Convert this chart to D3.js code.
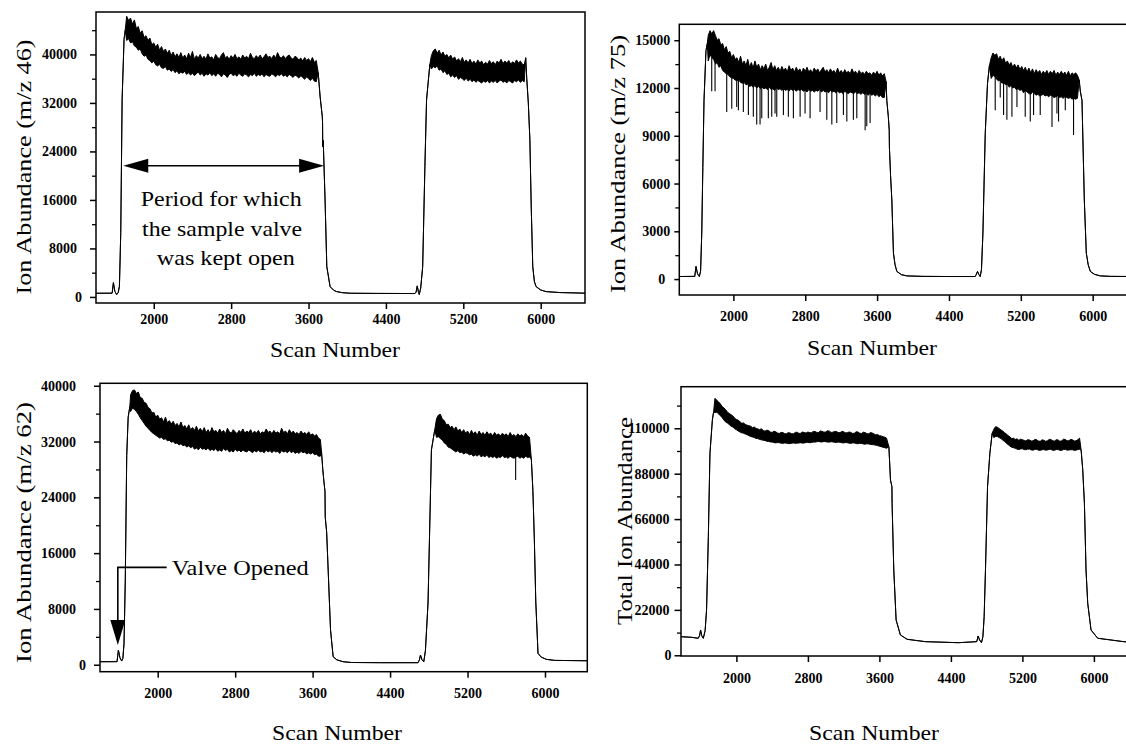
<!DOCTYPE html>
<html>
<head>
<meta charset="utf-8">
<script src="https://cdn.jsdelivr.net/npm/d3@7"></script>
<style>
  html, body { margin: 0; padding: 0; background: #fff; }
  svg { display: block; }
  text { font-family: "Liberation Serif", "Times New Roman", serif; fill: #000; }
</style>
</head>
<body>
<svg id="fig" width="1126" height="744"></svg>
<script>
// ---- shared axis values ----
const scanTicks = [2000, 2800, 3600, 4400, 5200, 6000];

const ticks46 = [0, 8000, 16000, 24000, 32000, 40000];
const minor46 = [4000, 12000, 20000, 28000, 36000, 44000];
const ticks75 = [0, 3000, 6000, 9000, 12000, 15000];
const minor75 = [1500, 4500, 7500, 10500, 13500];
const ticks62 = [0, 8000, 16000, 24000, 32000, 40000];
const minor62 = [4000, 12000, 20000, 28000, 36000];
const ticksTIC = [0, 22000, 44000, 66000, 88000, 110000];
const minorTIC = [11000, 33000, 55000, 77000, 99000, 121000];

// ---- traces: [scan, value] or [scan, low, high] where the signal is noisy ----
const trace46 = [
  [1400,610],[1570,620],[1583,2360],[1598,900],[1617,400],[1632,700],[1645,1700],[1659,10600],[1673,32600],[1693,42500],[1705,44000],
  [1720,42300,46300],[1740,42600,45600],[1760,41900,46000],[1780,42100,45000],[1800,41400,45700],[1820,41200,44300],
  [1840,40700,44600],[1860,40900,43500],[1880,40100,43900],[1900,39700,42800],[1920,39900,43100],[1940,39200,42300],
  [1960,39000,42700],[1980,38600,41600],[2000,38900,41900],[2020,38300,41200],[2040,38100,41700],[2060,38400,40700],
  [2080,37800,41300],[2100,37700,40500],[2120,38000,40900],[2140,37400,40200],[2160,37600,40700],[2180,37200,39800],
  [2200,37500,40400],[2220,37000,39600],[2240,37300,40100],[2260,36800,39500],[2280,37100,40300],[2300,36900,39400],
  [2320,37200,39900],[2340,36700,39300],[2360,37000,40200],[2380,36600,39500],[2400,36900,40500],[2420,36500,39200],
  [2440,36800,39800],[2460,37100,39400],[2480,36600,40000],[2500,36900,39300],[2520,36400,39700],[2540,36800,39200],
  [2560,36600,40100],[2580,37000,39400],[2600,36500,39600],[2620,36800,39100],[2640,36400,40000],[2660,36900,39500],
  [2680,36700,39300],[2700,36300,39900],[2720,36800,40300],[2740,36600,39400],[2760,36200,39700],[2780,36700,39200],
  [2800,36900,39800],[2820,36500,39400],[2840,36700,40000],[2860,36400,39300],[2880,36900,39600],[2900,36600,39200],
  [2920,36400,39900],[2940,36800,39400],[2960,36600,39700],[2980,36300,39300],[3000,36700,40200],[3020,36500,39500],
  [3040,36900,39300],[3060,36400,39800],[3080,36700,39400],[3100,36500,39900],[3120,36800,39300],[3140,36300,39600],
  [3160,36700,40100],[3180,36500,39500],[3200,36400,39700],[3220,36800,39300],[3240,36600,39900],[3260,36300,39400],
  [3280,36700,40300],[3300,36500,39600],[3320,36800,39400],[3340,36400,39800],[3360,36600,39300],[3380,36300,39700],
  [3400,36700,39900],[3420,36500,39400],[3440,36200,39200],[3460,36600,39700],[3480,36400,39500],[3500,36100,39100],
  [3520,36500,39400],[3540,36200,38900],[3560,35900,39500],[3580,36300,39000],[3600,36000,39300],[3620,35700,38800],
  [3640,36100,39500],[3660,35600,38700],[3680,35500,39000],
  [3700,37000],[3720,33000],[3742,29800],[3745,28800],[3747,24800],[3752,25800],[3771,16000],[3789,5000],[3823,1700],
  [3860,1100],[3892,875],[3950,700],[4030,610],[4300,580],[4700,560],[4712,800],[4724,1820],[4735,900],[4745,400],
  [4760,1500],[4780,5000],[4803,21500],[4820,32500],[4854,38350],
  [4870,37600,39800],[4890,38000,40600],[4910,37800,40900],[4930,38100,40200],[4950,37400,40700],[4970,37600,39900],
  [4990,37000,40400],[5010,37300,39700],[5030,36700,40000],[5050,36900,39400],[5070,36300,39900],[5090,36600,39200],
  [5110,36200,39600],[5130,36500,38900],[5150,35900,39300],[5170,36200,38800],[5190,36000,39500],[5210,35700,38700],
  [5230,36100,39100],[5250,35600,38600],[5270,35900,39200],[5290,35500,38500],[5310,35800,38900],[5330,35400,38400],
  [5350,35700,39100],[5370,35500,38600],[5390,35300,38900],[5410,35600,38300],[5430,35400,38700],[5450,35700,38400],
  [5470,35300,39000],[5490,35600,38500],[5510,35400,38800],[5530,35700,38300],[5550,35300,38900],[5570,35600,38600],
  [5590,35800,39200],[5610,35400,38500],[5630,35600,38900],[5650,35300,38600],[5670,35700,39000],[5690,35500,38400],
  [5710,35300,38800],[5730,35700,38500],[5750,35500,39100],[5770,35800,38600],[5790,35400,38900],[5810,35700,38400],
  [5830,35500,38300],
  [5845,39450],[5856,36000],[5872,32000],[5888,26000],[5902,15000],[5918,5000],[5935,2500],[5953,1700],[6000,1150],
  [6057,875],[6200,720],[6460,620]
];

const trace75 = [
  [1398,160],[1570,170],[1584,790],[1600,350],[1621,160],[1635,500],[1648,2880],[1660,7000],[1673,11220],[1695,14350],[1710,14800],
  [1720,13700,15300],[1740,14100,15600],[1760,13900,15400],[1780,13800,15600],[1800,13500,15300],[1820,13600,15000],
  [1840,13300,15100],[1860,13400,14700],[1880,13100,14800],[1900,13000,14400],[1920,12900,14600],[1940,12850,14200],
  [1960,12700,14300],[1980,12650,13900],[2000,12600,14100],[2020,12500,13800],[2040,12450,13900],[2060,12500,13600],
  [2080,12350,14000],[2100,12300,13500],[2120,12350,13700],[2140,12200,13400],[2160,12250,13800],[2180,12100,13300],
  [2200,12150,13600],[2220,12050,13250],[2240,12150,13700],[2260,12000,13300],[2280,12100,13500],[2300,11950,13150],
  [2320,12050,13400],[2340,11950,13200],[2360,12000,13500],[2380,11900,13100],[2400,12050,13300],[2420,11900,13600],
  [2440,11950,13150],[2460,11850,13400],[2480,12000,13100],[2500,11900,13300],[2520,11950,13050],[2540,11850,13350],
  [2560,11950,13100],[2580,11850,13250],[2600,11900,13000],[2620,11800,13400],[2640,11950,13100],[2660,11850,13250],
  [2680,11900,13000],[2700,11800,13300],[2720,11900,13050],[2740,11850,13200],[2760,11900,12950],[2780,11800,13250],
  [2800,11850,13050],[2820,11750,13300],[2840,11900,13000],[2860,11800,13150],[2880,11850,12950],[2900,11750,13250],
  [2920,11850,13050],[2940,11800,13200],[2960,11900,12950],[2980,11750,13150],[3000,11850,13300],[3020,11750,13000],
  [3040,11800,13150],[3060,11700,12950],[3080,11850,13200],[3100,11750,13000],[3120,11800,13100],[3140,11700,12900],
  [3160,11800,13250],[3180,11700,12950],[3200,11750,13100],[3220,11650,12900],[3240,11800,13150],[3260,11700,12950],
  [3280,11650,13050],[3300,11750,12900],[3320,11700,13200],[3340,11650,12950],[3360,11750,13050],[3380,11650,12850],
  [3400,11700,13100],[3420,11600,12900],[3440,11700,13000],[3460,11600,12850],[3480,11650,13050],[3500,11550,12900],
  [3520,11650,12950],[3540,11550,12800],[3560,11600,13000],[3580,11500,12850],[3600,11600,13050],[3620,11450,12800],
  [3640,11550,12950],[3660,11400,12750],[3680,11400,12900],
  [3700,12400],[3708,11220],[3725,10200],[3735,9350],[3737,8300],[3750,6500],[3764,4965],[3782,1630],[3800,900],
  [3820,480],[3870,280],[3931,200],[4100,170],[4400,160],[4692,160],[4705,300],[4718,480],[4732,300],[4748,160],
  [4762,600],[4778,2880],[4804,9140],[4829,12270],[4850,13400],
  [4870,12600,13900],[4890,12800,14200],[4910,12700,14050],[4930,12550,14150],[4950,12450,13800],[4970,12500,14000],
  [4990,12300,13700],[5010,12350,13900],[5030,12200,13550],[5050,12250,13700],[5070,12050,13450],[5090,12150,13600],
  [5110,12000,13300],[5130,12050,13500],[5150,11900,13250],[5170,11950,13450],[5190,11850,13150],[5210,11900,13350],
  [5230,11700,13100],[5250,11850,13300],[5270,11750,13000],[5290,11650,13250],[5310,11600,12950],[5330,11750,13200],
  [5350,11650,12900],[5370,11550,13150],[5390,11600,12950],[5410,11500,13100],[5430,11550,12850],[5450,11600,13050],
  [5470,11500,12900],[5490,11550,13100],[5510,11450,12850],[5530,11550,13050],[5550,11500,12900],[5570,11400,13100],
  [5590,11450,12800],[5610,11500,13000],[5630,11400,12850],[5650,11450,13050],[5670,11350,12850],[5690,11450,13000],
  [5710,11400,12800],[5730,11350,13050],[5750,11400,12750],[5770,11300,12950],[5790,11350,12850],[5810,11300,12950],
  [5830,11350,12800],
  [5850,12500],[5862,11800],[5881,11220],[5907,4965],[5929,1630],[5950,900],[5974,480],[6020,300],[6085,200],
  [6200,170],[6460,160]
];

// sharp downward drop-outs in the m/z 75 signal: [scan, value]
const dropouts75 = [
  [1759,11800],[1796,11800],[1926,10500],[1982,10700],[2037,10800],[2056,10600],[2111,10500],[2167,10300],
  [2222,10200],[2260,9700],[2297,9700],[2316,10100],[2389,10100],[2427,10200],[2464,10400],[2483,10200],
  [2557,10300],[2612,10200],[2668,10100],[2743,10200],[2798,10400],[2854,10100],[2965,10500],[3040,10000],
  [3096,9700],[3151,9800],[3225,10300],[3263,9900],[3336,10000],[3374,10100],[3467,9350],[3485,9600],[3522,9800],
  [4915,10600],[4971,11400],[5008,10300],[5045,10000],[5101,10200],[5157,10800],[5249,10200],[5305,9900],
  [5342,10300],[5416,10300],[5547,9550],[5602,10400],[5620,9900],[5695,10600],[5787,9050]
];

const trace62 = [
  [1404,430],[1580,440],[1594,2100],[1610,1000],[1628,530],[1640,900],[1652,3000],[1665,12000],[1680,30000],[1695,35500],[1712,37000],
  [1720,36300,38700],[1740,36800,39300],[1760,36600,39400],[1780,36300,38900],[1800,35900,39100],[1820,35400,38300],
  [1840,35000,38200],[1860,34600,37600],[1880,34200,37500],[1900,33900,36900],[1920,33600,36700],[1940,33300,36100],
  [1960,33100,36200],[1980,32900,35500],[2000,32700,35800],[2020,32500,35200],[2040,32600,35400],[2060,32300,34800],
  [2080,32400,35500],[2100,32100,34700],[2120,32200,35000],[2140,31900,34500],[2160,32000,34900],[2180,31700,34300],
  [2200,31800,34600],[2220,31500,34100],[2240,31700,34800],[2260,31400,34000],[2280,31500,34300],[2300,31200,33800],
  [2320,31400,34400],[2340,31100,33700],[2360,31300,34000],[2380,30900,33600],[2400,31100,34200],[2420,30800,33500],
  [2440,31200,33900],[2460,30900,33400],[2480,31000,34000],[2500,30800,33300],[2520,31100,33700],[2540,30700,33200],
  [2560,30900,34000],[2580,30700,33400],[2600,31000,33600],[2620,30600,33200],[2640,30800,33800],[2660,30600,33300],
  [2680,31000,33600],[2700,30700,33100],[2720,30900,33900],[2740,30500,33400],[2760,30700,33200],[2780,30500,33700],
  [2800,30900,33400],[2820,30600,33100],[2840,30800,33600],[2860,30500,33300],[2880,30800,33800],[2900,30600,33200],
  [2920,30500,33500],[2940,30800,33300],[2960,30600,33700],[2980,30400,33100],[3000,30700,33500],[3020,30500,33200],
  [3040,30800,33600],[3060,30500,33100],[3080,30600,33400],[3100,30400,33200],[3120,30800,33800],[3140,30500,33300],
  [3160,30700,33500],[3180,30400,33100],[3200,30700,33600],[3220,30500,33200],[3240,30600,33400],[3260,30300,33100],
  [3280,30700,33900],[3300,30500,33300],[3320,30600,33500],[3340,30400,33100],[3360,30700,33700],[3380,30400,33200],
  [3400,30600,33500],[3420,30300,33100],[3440,30500,33300],[3460,30300,33000],[3480,30600,33500],[3500,30400,33100],
  [3520,30500,33300],[3540,30200,33000],[3560,30400,33400],[3580,30200,32900],[3600,30400,33100],[3620,30100,32800],
  [3640,30200,33000],[3660,29900,32500],[3680,29900,32300],
  [3692,30500],[3705,28000],[3715,26500],[3728,24800],[3730,21200],[3745,19000],[3765,12000],[3785,5000],[3812,1150],
  [3850,700],[3915,430],[4000,320],[4300,290],[4689,290],[4703,700],[4714,1390],[4730,700],[4748,430],
  [4765,2000],[4792,8850],[4810,20000],[4827,30800],[4861,33650],
  [4880,32600,35300],[4900,32700,35800],[4920,32400,35900],[4940,32200,35200],[4960,31800,35000],[4980,31600,34400],
  [5000,31200,34500],[5020,31100,34000],[5040,30900,34200],[5060,30700,33700],[5080,30500,34100],[5100,30700,33500],
  [5120,30400,33800],[5140,30500,33300],[5160,30200,33700],[5180,30400,33200],[5200,30300,33500],[5220,30100,33000],
  [5240,30200,33600],[5260,29900,33100],[5280,30100,33400],[5300,29900,32900],[5320,30200,33500],[5340,29800,33000],
  [5360,30000,33300],[5380,29800,32900],[5400,30100,33400],[5420,29700,33000],[5440,29900,33200],[5460,29700,32800],
  [5480,29900,33300],[5500,29600,32900],[5520,29800,33100],[5540,29700,32800],[5560,30000,33200],[5580,29700,32900],
  [5600,29800,33100],[5620,29600,32700],[5640,29900,33300],[5660,29700,32800],[5680,29600,33000],[5700,29800,32700],
  [5720,29900,33100],[5740,29600,32800],[5760,29800,33000],[5780,29600,32700],[5800,29900,33200],[5820,29700,32800],
  [5840,29800,32600],
  [5859,29500],[5875,25000],[5890,18000],[5905,9000],[5928,1630],[5960,1100],[6014,770],[6100,620],[6437,570]
];

const dropouts62 = [[5697,26480]];

const traceTIC = [
  [1380,9000],[1500,8700],[1573,8240],[1588,9500],[1599,12260],[1612,9500],[1630,8240],[1650,12000],[1666,21950],
  [1686,57470],[1704,97900],[1731,114000],[1745,118000],
  [1760,117500,124500],[1780,117800,123600],[1800,117000,122800],[1820,116100,121900],[1840,115200,120500],
  [1860,114000,119900],[1880,113000,119000],[1900,112500,117800],[1920,111800,117200],[1940,111000,116600],
  [1960,110600,116000],[1980,109800,114900],[2000,109300,114300],[2020,108700,113900],[2040,108200,113200],
  [2060,107800,112400],[2080,107600,112600],[2100,107200,111800],[2120,106900,111500],[2140,106400,111200],
  [2160,106000,111000],[2180,105800,110300],[2200,105500,110600],[2220,105100,109900],[2240,105000,109700],
  [2260,104600,109300],[2280,104400,109800],[2300,104200,108900],[2320,104100,108600],[2340,103700,109100],
  [2360,103600,108900],[2380,103400,108200],[2400,103300,108000],[2420,103100,108600],[2440,102900,108300],
  [2460,103100,107700],[2480,103000,107500],[2500,102800,108000],[2520,102700,107900],[2540,102900,107400],
  [2560,102800,107300],[2580,102600,107900],[2600,102600,107700],[2620,102800,107300],[2640,102900,107400],
  [2660,102700,108000],[2680,102800,108100],[2700,102900,107500],[2720,103000,107600],[2740,102800,108200],
  [2760,102900,107900],[2780,103100,107700],[2800,103200,108200],[2820,103000,107900],[2840,103100,107800],
  [2860,103300,108500],[2880,103300,108400],[2900,103500,108000],[2920,103600,108000],[2940,103400,108700],
  [2960,103400,108500],[2980,103600,108100],[3000,103500,108200],[3020,103300,108800],[3040,103300,108600],
  [3060,103500,108000],[3080,103400,108100],[3100,103200,108500],[3120,103100,108400],[3140,103300,107900],
  [3160,103200,107900],[3180,103000,108500],[3200,102900,108300],[3220,103100,107800],[3240,103000,107800],
  [3260,102800,108200],[3280,102700,108000],[3300,102900,107500],[3320,102900,107600],[3340,102600,108300],
  [3360,102500,108200],[3380,102700,107600],[3400,102600,107500],[3420,102400,108100],[3440,102300,107900],
  [3460,102500,107400],[3480,102400,107300],[3500,102200,107900],[3520,102100,107700],[3540,102000,107200],
  [3560,101800,106800],[3580,101600,107000],[3600,101300,106400],[3620,101100,106300],[3640,100800,105900],
  [3660,100600,105700],[3680,100300,105200],
  [3706,101100],[3724,84950],[3740,81700],[3742,73650],[3761,41340],[3787,17100],[3835,9840],[3910,7750],
  [4114,6600],[4485,6100],[4689,6600],[4705,9350],[4720,7500],[4742,6100],[4758,9000],[4772,18700],[4787,41300],
  [4810,81700],[4836,97900],[4862,107580],
  [4880,105500,109500],[4900,106000,110800],[4920,106000,110500],[4940,105500,109900],[4960,105000,109200],
  [4980,104300,108700],[5000,103600,107800],[5020,102800,107300],[5040,102100,106400],[5060,101400,105900],
  [5080,100800,105000],[5100,100600,105200],[5120,100300,104600],[5140,99900,104900],[5160,99700,104200],
  [5180,100000,104700],[5200,100100,104500],[5220,99700,104100],[5240,99600,103800],[5260,99900,104500],
  [5280,99900,104300],[5300,99500,103800],[5320,99400,103900],[5340,99800,104600],[5360,99800,104400],
  [5380,99400,103800],[5400,99300,103700],[5420,99600,104400],[5440,99700,104200],[5460,99400,103700],
  [5480,99500,103900],[5500,99800,104600],[5520,99800,104500],[5540,99300,103900],[5560,99400,103800],
  [5580,99700,104500],[5600,99700,104300],[5620,99300,103700],[5640,99300,103900],[5660,99700,104700],
  [5680,99800,104600],[5700,99400,103900],[5720,99500,104000],[5740,99600,104600],[5760,99600,104400],
  [5780,99300,103800],[5800,99400,103900],[5820,99700,104500],[5840,99800,105200],
  [5857,99500],[5875,90000],[5894,73650],[5912,41340],[5931,25200],[5968,12260],[6043,8240],[6191,7410],
  [6332,6600],[6460,6300]
];

// ---- figure layout ----
const panels = [
  { id: "p46", left: 96, right: 585, top: 12, bottom: 303,
    xDomain: [1403, 6458], yDomain: [-1000, 47000],
    trace: trace46, dropouts: [], yTicks: ticks46, yMinor: minor46,
    yTickSize: 6, yPad: 13, zeroDx: 5, xLabelBase: 21,
    yTitle: "Ion Abundance (m/z 46)", yTitleX: 31, yTitleY: 167, yTitleLen: 255,
    xTitleX: 335, xTitleY: 357 },
  { id: "p75", left: 679.3, right: 1134, top: 24.3, bottom: 295,
    xDomain: [1398, 6460], yDomain: [-1000, 16000],
    trace: trace75, dropouts: dropouts75, yTicks: ticks75, yMinor: minor75,
    yTickSize: 5, yPad: 4, zeroDx: -5, xLabelBase: 25.5,
    yTitle: "Ion Abundance (m/z 75)", yTitleX: 625, yTitleY: 164, yTitleLen: 258,
    xTitleX: 872, xTitleY: 355 },
  { id: "p62", left: 100, right: 587.3, top: 383.3, bottom: 671.7,
    xDomain: [1404, 6437], yDomain: [-1000, 40350],
    trace: trace62, dropouts: dropouts62, yTicks: ticks62, yMinor: minor62,
    yTickSize: 6, yPad: 18, zeroDx: 10, xLabelBase: 26.5,
    yTitle: "Ion Abundance (m/z 62)", yTitleX: 31, yTitleY: 532.5, yTitleLen: 261,
    xTitleX: 337, xTitleY: 740 },
  { id: "ptic", left: 681, right: 1135, top: 386.7, bottom: 656,
    xDomain: [1380, 6460], yDomain: [-350, 130150],
    trace: traceTIC, dropouts: [], yTicks: ticksTIC, yMinor: minorTIC,
    yTickSize: 6.5, yPad: 5, zeroDx: 2, xLabelBase: 27,
    yTitle: "Total Ion Abundance", yTitleX: 632, yTitleY: 521, yTitleLen: 208,
    xTitleX: 874, xTitleY: 740 }
];

const svg = d3.select("#fig");
svg.append("rect").attr("width", 1126).attr("height", 744).attr("fill", "#fff");
const defs = svg.append("defs");

const hiOf = d => (d.length > 2 ? d[2] : d[1]);
const loOf = d => d[1];
const bisectScan = d3.bisector(d => d[0]).left;

function lowAt(trace, s) {
  const i = Math.max(1, Math.min(trace.length - 1, bisectScan(trace, s)));
  const a = trace[i - 1], b = trace[i];
  const t = (s - a[0]) / (b[0] - a[0]);
  return loOf(a) + t * (loOf(b) - loOf(a));
}

function drawPanel(p) {
  const x = d3.scaleLinear().domain(p.xDomain).range([p.left, p.right]);
  const y = d3.scaleLinear().domain(p.yDomain).range([p.bottom, p.top]);
  p.x = x; p.y = y;
  const g = svg.append("g").attr("class", "panel " + p.id);

  defs.append("clipPath").attr("id", "clip-" + p.id)
    .append("rect")
    .attr("x", p.left).attr("y", p.top)
    .attr("width", p.right - p.left).attr("height", p.bottom - p.top);

  const plot = g.append("g").attr("clip-path", "url(#clip-" + p.id + ")");

  const area = d3.area()
    .x(d => x(d[0]))
    .y0(d => y(loOf(d)))
    .y1(d => y(hiOf(d)));

  plot.append("path")
    .datum(p.trace)
    .attr("d", area)
    .attr("fill", "#000")
    .attr("stroke", "#000")
    .attr("stroke-width", 1)
    .attr("stroke-linejoin", "round");

  plot.selectAll("line.dropout")
    .data(p.dropouts)
    .join("line")
    .attr("class", "dropout")
    .attr("x1", d => x(d[0])).attr("x2", d => x(d[0]))
    .attr("y1", d => y(lowAt(p.trace, d[0])))
    .attr("y2", d => y(d[1]))
    .attr("stroke", "#000")
    .attr("stroke-width", 1.1);

  // left axis: labelled major ticks and short minor ticks
  const yAxis = d3.axisLeft(y)
    .tickValues(p.yTicks)
    .tickSize(p.yTickSize)
    .tickPadding(p.yPad)
    .tickFormat(d3.format("d"));
  const ya = g.append("g")
    .attr("transform", `translate(${p.left},0)`)
    .call(yAxis)
    .attr("font-family", '"Liberation Serif", "Times New Roman", serif')
    .attr("font-size", 14)
    .attr("font-weight", "bold");
  ya.select(".domain").remove();
  ya.selectAll(".tick line").attr("stroke-width", 1.5);
  ya.selectAll(".tick").filter(d => d === 0).select("text").attr("dx", p.zeroDx);

  const yMinorAxis = d3.axisLeft(y).tickValues(p.yMinor).tickSize(4).tickFormat("");
  const ym = g.append("g").attr("transform", `translate(${p.left},0)`).call(yMinorAxis);
  ym.select(".domain").remove();
  ym.selectAll(".tick line").attr("stroke-width", 1.3);

  // bottom axis
  const xAxis = d3.axisBottom(x)
    .tickValues(scanTicks)
    .tickSize(6)
    .tickFormat(d3.format("d"));
  const xa = g.append("g")
    .attr("transform", `translate(0,${p.bottom})`)
    .call(xAxis)
    .attr("font-family", '"Liberation Serif", "Times New Roman", serif')
    .attr("font-size", 14)
    .attr("font-weight", "bold");
  xa.select(".domain").remove();
  xa.selectAll(".tick line").attr("stroke-width", 1.5);
  xa.selectAll(".tick text").attr("y", p.xLabelBase).attr("dy", 0);

  // plot frame
  g.append("rect")
    .attr("x", p.left).attr("y", p.top)
    .attr("width", p.right - p.left).attr("height", p.bottom - p.top)
    .attr("fill", "none")
    .attr("stroke", "#000")
    .attr("stroke-width", 1.5);

  // axis titles
  g.append("text")
    .attr("transform", `translate(${p.yTitleX},${p.yTitleY}) rotate(-90)`)
    .attr("text-anchor", "middle")
    .attr("font-size", 22)
    .attr("textLength", p.yTitleLen)
    .attr("lengthAdjust", "spacingAndGlyphs")
    .text(p.yTitle);

  g.append("text")
    .attr("x", p.xTitleX).attr("y", p.xTitleY)
    .attr("text-anchor", "middle")
    .attr("font-size", 22)
    .attr("textLength", 130)
    .attr("lengthAdjust", "spacingAndGlyphs")
    .text("Scan Number");
}

panels.forEach(drawPanel);

// ---- annotations ----
// m/z 46: double arrow spanning the open-valve period
{
  const p = panels[0], x = p.x, y = p.y;
  const span = { from: 1685, to: 3761, at: 21650 };
  const x0 = x(span.from), x1 = x(span.to), yy = y(span.at);
  const headLen = 25, headHalf = 7;
  const g = svg.append("g").attr("class", "period-note");
  g.append("line")
    .attr("x1", x0 + headLen - 2).attr("x2", x1 - headLen + 2)
    .attr("y1", yy).attr("y2", yy)
    .attr("stroke", "#000").attr("stroke-width", 1.6);
  g.append("path")
    .attr("d", `M${x0},${yy}L${x0 + headLen},${yy - headHalf}L${x0 + headLen},${yy + headHalf}Z`)
    .attr("fill", "#000");
  g.append("path")
    .attr("d", `M${x1},${yy}L${x1 - headLen},${yy - headHalf}L${x1 - headLen},${yy + headHalf}Z`)
    .attr("fill", "#000");

  const lines = [
    { t: "Period for which", s: 2697, v: 15000, len: 161 },
    { t: "the sample valve", s: 2706, v: 10050, len: 160 },
    { t: "was kept open", s: 2745, v: 5300, len: 138 }
  ];
  g.selectAll("text").data(lines).join("text")
    .attr("x", d => x(d.s)).attr("y", d => y(d.v))
    .attr("text-anchor", "middle")
    .attr("font-size", 22)
    .attr("textLength", d => d.len)
    .attr("lengthAdjust", "spacingAndGlyphs")
    .text(d => d.t);
}

// m/z 62: arrow marking the valve opening
{
  const p = panels[2], x = p.x, y = p.y;
  const mark = { scan: 1588, top: 13960, tip: 2820, leaderTo: 2093, textScan: 2145, textValue: 12860 };
  const xs = x(mark.scan), yTop = y(mark.top), yTip = y(mark.tip);
  const headLen = 25, headHalf = 7.5;
  const g = svg.append("g").attr("class", "valve-note");
  g.append("path")
    .attr("d", `M${x(mark.leaderTo)},${yTop}H${xs}V${yTip - headLen + 2}`)
    .attr("fill", "none").attr("stroke", "#000").attr("stroke-width", 1.6);
  g.append("path")
    .attr("d", `M${xs},${yTip}L${xs - headHalf},${yTip - headLen}L${xs + headHalf},${yTip - headLen}Z`)
    .attr("fill", "#000");
  g.append("text")
    .attr("x", x(mark.textScan)).attr("y", y(mark.textValue))
    .attr("font-size", 22)
    .attr("textLength", 137)
    .attr("lengthAdjust", "spacingAndGlyphs")
    .text("Valve Opened");
}
</script>
</body>
</html>
